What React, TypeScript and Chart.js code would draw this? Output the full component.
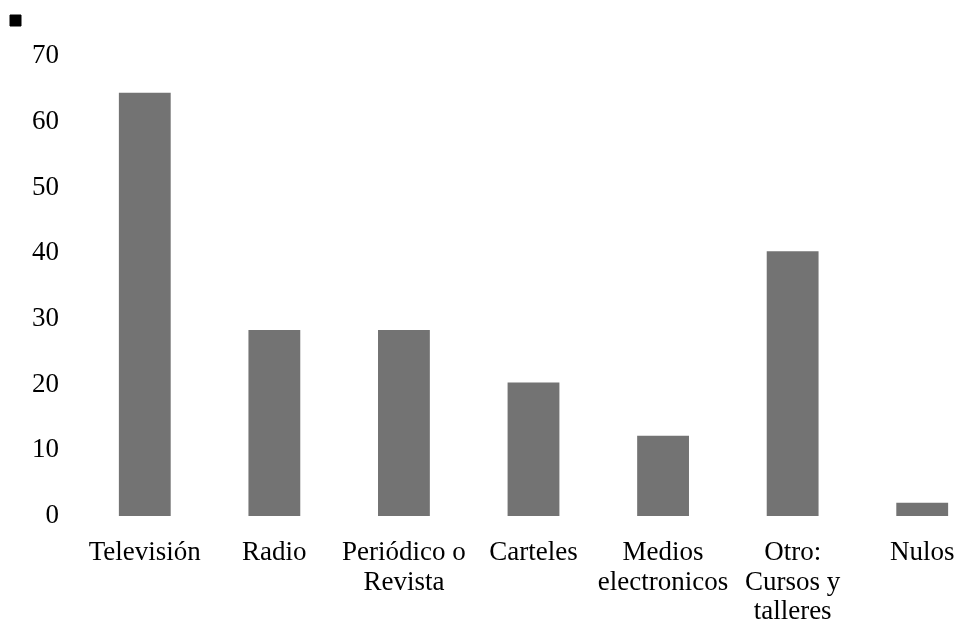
import React, { useEffect, useRef } from "react";
import { Chart, registerables } from "chart.js";

Chart.register(...registerables);

const categories: (string | string[])[] = [
  "Televisión",
  "Radio",
  ["Periódico o", "Revista"],
  "Carteles",
  ["Medios", "electronicos"],
  ["Otro:", "Cursos y", "talleres"],
  "Nulos",
];
const values: number[] = [64.4, 28.3, 28.3, 20.3, 12.2, 40.3, 2.0];
const yTicks = { min: 0, max: 70, step: 10 };

const CANVAS_W = 979;
const CANVAS_H = 617;

export default function App() {
  const ref = useRef<HTMLCanvasElement | null>(null);

  useEffect(() => {
    if (!ref.current) return;
    const font = { family: "'Liberation Serif', 'Times New Roman', serif", size: 27, lineHeight: 1.1 };
    const chart = new Chart(ref.current, {
      type: "bar",
      data: {
        labels: categories,
        datasets: [
          {
            label: "",
            data: values,
            backgroundColor: "#737373",
            borderWidth: 0,
            barPercentage: 0.5,
            categoryPercentage: 0.8,
            xAxisID: "x",
          },
        ],
      },
      options: {
        animation: false,
        responsive: false,
        maintainAspectRatio: false,
        layout: { padding: { left: -5, right: 0, top: 0, bottom: 0 } },
        plugins: {
          tooltip: { enabled: false },
          legend: {
            display: true,
            position: "top",
            align: "start",
            labels: {
              boxWidth: 11,
              boxHeight: 11,
              padding: 7,
              font: { size: 6 },
              useBorderRadius: true,
              borderRadius: 3,
              generateLabels: () => [
                {
                  text: "",
                  fillStyle: "#000000",
                  strokeStyle: "#000000",
                  lineWidth: 1,
                  hidden: false,
                  datasetIndex: 0,
                },
              ],
            },
          },
        },
        scales: {
          x: {
            grid: { display: false },
            border: { display: false },
            ticks: {
              color: "#000000",
              font,
              padding: 14,
              maxRotation: 0,
              autoSkip: false,
            },
            afterFit: (scale: any) => {
              scale.height = 109;
            },
          },
          xTop: {
            type: "category",
            position: "top",
            labels: categories as any,
            grid: { display: false },
            border: { display: false },
            ticks: { display: false },
            afterFit: (scale: any) => {
              scale.height = 20;
            },
          },
          y: {
            min: yTicks.min,
            max: yTicks.max,
            grid: { display: false },
            border: { display: false },
            ticks: {
              stepSize: yTicks.step,
              color: "#000000",
              font,
              padding: 13,
            },
            afterFit: (scale: any) => {
              scale.width = 77;
            },
          },
        },
      },
    });
    return () => chart.destroy();
  }, []);

  return (
    <div style={{ position: "fixed", left: 8, top: 8, right: 0, bottom: 0, overflow: "hidden" }}>
      <canvas ref={ref} width={CANVAS_W} height={CANVAS_H} style={{ display: "block", width: CANVAS_W, height: CANVAS_H }} />
    </div>
  );
}
